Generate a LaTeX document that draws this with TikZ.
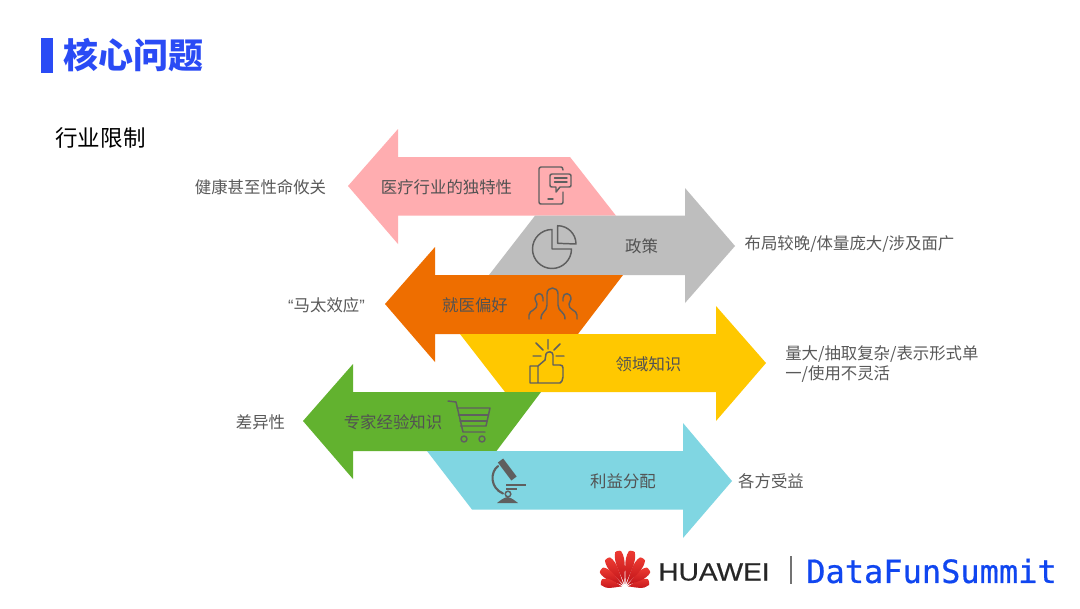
\documentclass[tikz,border=0pt]{standalone}
\usepackage{fontspec}
\setmainfont{Noto Sans CJK SC}
\newfontfamily\latinfont{Liberation Sans}
\newfontfamily\hwfont[FakeBold=0.5]{Liberation Sans}
\newfontfamily\monofont[FakeBold=0.6]{DejaVu Sans Mono}
\definecolor{titleblue}{HTML}{2A4BF5}
\definecolor{logoblue}{HTML}{1046F0}
\definecolor{txtgray}{HTML}{595959}
\definecolor{icongray}{HTML}{5F5F5F}
\definecolor{apink}{HTML}{FFADB0}
\definecolor{agray}{HTML}{BEBEBE}
\definecolor{aorange}{HTML}{EE6E00}
\definecolor{ayellow}{HTML}{FFC800}
\definecolor{agreen}{HTML}{62B22F}
\definecolor{acyan}{HTML}{80D6E2}
\definecolor{petaltip}{HTML}{EE3B33}
\definecolor{petalbase}{HTML}{BE1218}
\tikzset{
  lbl/.style={font=\fontsize{12.3pt}{15pt}\selectfont, text=txtgray, inner sep=0pt},
  arrowlbl/.style={lbl, text=txtgray!92!black},
  icon/.style={draw=icongray, line width=1.1pt, line cap=round, line join=round},
  solidicon/.style={fill=icongray, draw=none},
}
\begin{document}
\begin{tikzpicture}[x=0.75pt,y=-0.75pt]
\useasboundingbox (0,0) rectangle (1080,608);
\fill[white] (0,0) rectangle (1080,608);
% title
\fill[titleblue] (41,38) rectangle (52.5,73);
\node[inner sep=0pt, text=titleblue, font=\fontsize{26.2pt}{30pt}\selectfont\bfseries] (title) at (133.5,55) {核心问题};
\node[inner sep=0pt, text=black, font=\fontsize{16.9pt}{20pt}\selectfont] (sub) at (100.5,138) {行业限制};
% arrows
\fill[apink] (348,186) -- (398,129) -- (398,157) -- (570,157) -- (616,215.7) -- (398,215.7) -- (398,244) -- cycle;
\fill[agray] (735,246) -- (685,188) -- (685,215.7) -- (535,215.7) -- (489,275) -- (685,275) -- (685,303) -- cycle;
\fill[aorange] (385,304) -- (435,247) -- (435,275) -- (623,275) -- (578,334) -- (435,334) -- (435,362) -- cycle;
\fill[ayellow] (766,363) -- (716,306) -- (716,334) -- (460,334) -- (505,392) -- (716,392) -- (716,421) -- cycle;
\fill[agreen] (303,421) -- (353,364) -- (353,392) -- (541,392) -- (496.5,451) -- (353,451) -- (353,479) -- cycle;
\fill[acyan] (732,481) -- (683,423) -- (683,451) -- (427,451) -- (472,509.5) -- (683,509.5) -- (683,538) -- cycle;
% arrow labels
\node[arrowlbl] (a1) at (446.5,187) {医疗行业的独特性};
\node[arrowlbl] (a2) at (641.5,246) {政策};
\node[arrowlbl] (a3) at (475,305) {就医偏好};
\node[arrowlbl] (a4) at (648.5,364) {领域知识};
\node[arrowlbl] (a5) at (393,422) {专家经验知识};
\node[arrowlbl] (a6) at (623,481) {利益分配};
% side labels
\node[lbl] (b1) at (260.5,187) {健康甚至性命攸关};
\node[lbl] (b2) at (849.5,244) {布局较晚/体量庞大/涉及面广};
\node[lbl] (b3) at (326.5,305) {{\latinfont “}马太效应{\latinfont ”}};
\node[lbl, anchor=west, align=left] (b4) at (785,364) {量大/抽取复杂/表示形式单\\一/使用不灵活};
\node[lbl] (b5) at (260.5,422) {差异性};
\node[lbl] (b6) at (771,481.5) {各方受益};
% phone icon
\draw[icon] (563,192) -- (563,202) .. controls (563,203.5) and (562,204) .. (561,204) -- (541,204) .. controls (540,204) and (539,203.5) .. (539,202) -- (539,169) .. controls (539,168) and (540,167) .. (541,167) -- (561,167) .. controls (562,167) and (563,168) .. (563,170);
\draw[icon] (552,174) -- (569,174) .. controls (570.5,174) and (571,175) .. (571,176) -- (571,185) .. controls (571,186.5) and (570.5,187) .. (569,187) -- (560,187) -- (556,192) -- (556,187) -- (552,187) .. controls (550.5,187) and (550,186.5) .. (550,185) -- (550,176) .. controls (550,175) and (550.5,174) .. (552,174) -- cycle;
\draw[icon] (554.5,178) -- (567,178) (554.5,182) -- (567,182) (548,199) -- (553,199);
% pie icon
\draw[icon] (552,229.5) arc[start angle=-90, end angle=-360, radius=19.5] -- (552,249) -- cycle;
\draw[icon] (557.7,243.3) -- (557.7,225.7) arc[start angle=-90, end angle=0, radius=18.3] -- cycle;
% people icon
\draw[icon] (541,319) .. controls (541,311) and (547,312) .. (547,305) -- (547,294) .. controls (547,286) and (558,286) .. (558,294) -- (558,305) .. controls (558,312) and (565,311) .. (565,319);
\draw[icon] (529,319) -- (529,315) .. controls (529,310) and (538,310) .. (537,304) -- (535,299) .. controls (535,292) and (543,292) .. (543,298) -- (543,301);
\draw[icon] (577,319) -- (577,315) .. controls (577,310) and (568,310) .. (569,304) -- (571,299) .. controls (571,292) and (563,292) .. (563,298) -- (563,301);
% thumb icon
\draw[icon] (548,339.5) -- (548,349) (536,343) -- (543,350) (560,344) -- (554,350) (533,356) -- (541,356) (556,356) -- (564,356);
\draw[icon] (538,366) -- (530,366) -- (530,383) -- (560,383) .. controls (562,383) and (562,380) .. (563,377) -- (563,368) .. controls (563,366) and (562,365) .. (560,365) -- (553,365) -- (553,355) .. controls (553,351) and (547,351) .. (546,354) -- (545,360) -- (538,366) -- (538,383);
% cart icon
\draw[icon] (448,401) -- (456,402) -- (463,432) -- (485,432);
\draw[icon] (457,408) -- (490,408) -- (486,426) -- (460.5,426);
\draw[icon] (458.5,415) -- (488.5,415) (460,421) -- (487,421);
\draw[icon] (464,439) circle[radius=3] (482,439) circle[radius=3];
% microscope icon
\draw[draw=icongray, line width=5pt] (500.5,460.5) -- (514,478.5);
\draw[draw=icongray, line width=1.6pt, line cap=round] (498,466) .. controls (490,472) and (490,488) .. (503,493.5);
\draw[draw=icongray, line width=1.5pt] (506,484.5) -- (526,484.5) (506,488.5) -- (517,488.5);
\draw[draw=icongray, line width=1.1pt] (508,494) circle[radius=2.8];
\path[solidicon] (497,503) .. controls (501,500) and (503,498) .. (507.5,497) .. controls (512,498) and (514,500) .. (518,503) -- cycle;
% huawei logo
\foreach \ang/\len in {-78/24,-54/29,-32/33,-11/36,11/36,32/33,54/29,78/24}{
  \begin{scope}[shift={(625,587)},rotate=\ang]
    \shade[top color=petaltip, bottom color=petalbase] (0,-3) .. controls (-2,-\len*0.4) and (-7,-\len*0.75) .. (-3,-\len) .. controls (-2,-\len*1.03) and (2,-\len*1.03) .. (3,-\len) .. controls (7,-\len*0.75) and (2,-\len*0.4) .. (0,-3) -- cycle;
  \end{scope}
}
\node[inner sep=0pt, text=black!85, xscale=1.12, font=\fontsize{18.8pt}{20pt}\selectfont\hwfont] (hw) at (714,572) {HUAWEI};
\draw[draw=black!55, line width=0.8pt] (791,556) -- (791,584);
\node[inner sep=0pt, text=logoblue, font=\fontsize{24pt}{26pt}\selectfont\monofont] (dfs) at (931.5,571) {DataFunSummit};
\end{tikzpicture}
\end{document}
